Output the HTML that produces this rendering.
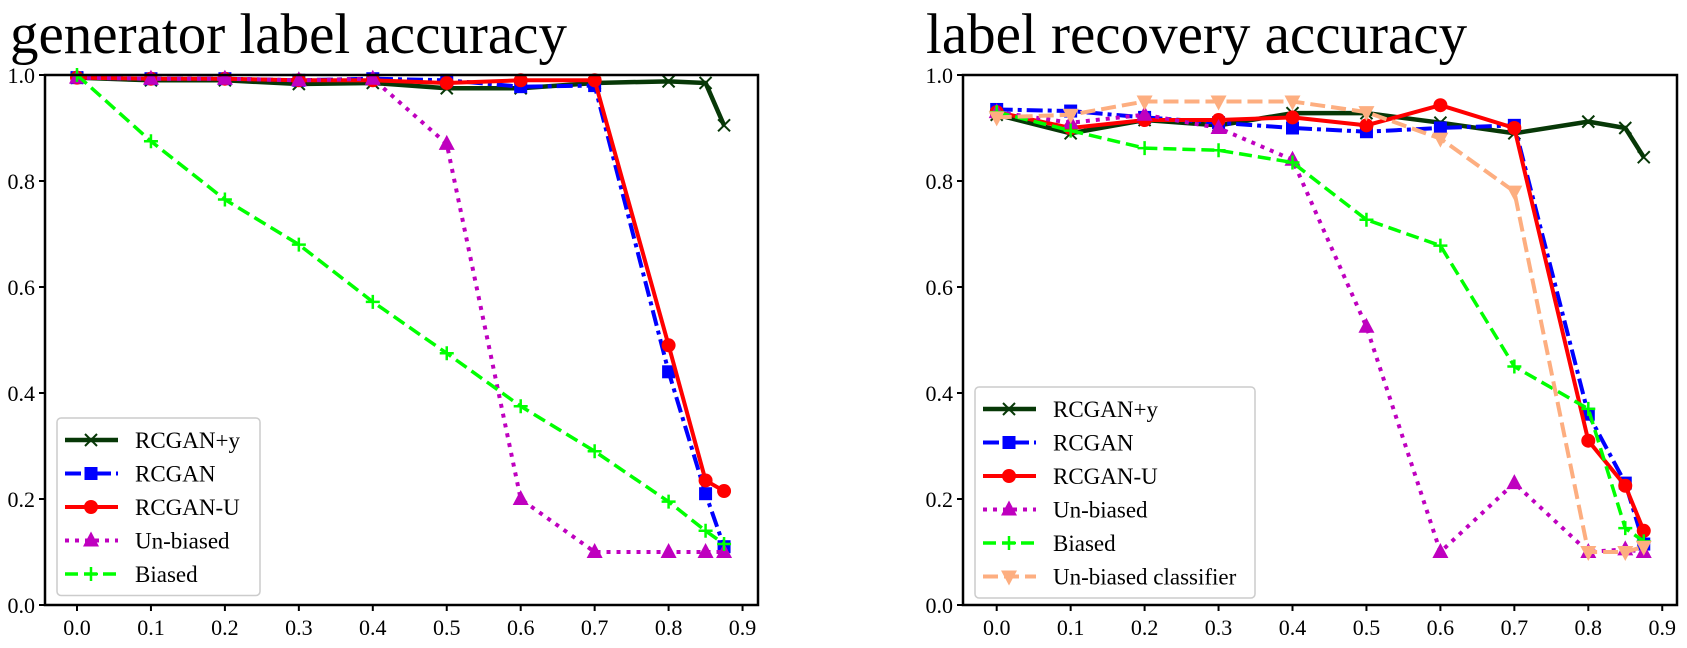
<!DOCTYPE html>
<html><head><meta charset="utf-8"><style>
body{margin:0;background:#fff;}
svg{display:block;font-family:"Liberation Serif",serif;}
</style></head><body>
<svg id="chart" width="1687" height="648" viewBox="0 0 1687 648" xmlns="http://www.w3.org/2000/svg"></svg>
<script>
const xValues = [0,0.1,0.2,0.3,0.4,0.5,0.6,0.7,0.8,0.85,0.875];
const xTicks = [0,0.1,0.2,0.3,0.4,0.5,0.6,0.7,0.8,0.9];
const yTicks = [0,0.2,0.4,0.6,0.8,1.0];
// generator label accuracy
const genRcganY = [0.995,0.99,0.99,0.983,0.985,0.975,0.975,0.985,0.988,0.985,0.905];
const genRcgan = [0.995,0.993,0.993,0.99,0.993,0.99,0.978,0.98,0.44,0.21,0.11];
const genRcganU = [0.995,0.993,0.993,0.99,0.99,0.985,0.99,0.99,0.49,0.235,0.215];
const genUnbiased = [0.995,0.993,0.993,0.99,0.993,0.87,0.2,0.1,0.1,0.1,0.1];
const genBiased = [1.0,0.875,0.765,0.68,0.572,0.475,0.375,0.29,0.195,0.14,0.115];
// label recovery accuracy
const recRcganY = [0.925,0.89,0.915,0.905,0.928,0.928,0.91,0.89,0.912,0.9,0.845];
const recRcgan = [0.935,0.932,0.92,0.91,0.9,0.893,0.9,0.905,0.36,0.23,0.115];
const recRcganU = [0.93,0.9,0.915,0.915,0.92,0.905,0.943,0.9,0.31,0.225,0.14];
const recUnbiased = [0.93,0.91,0.925,0.9,0.84,0.525,0.1,0.23,0.1,0.105,0.1];
const recBiased = [0.93,0.895,0.862,0.858,0.835,0.727,0.678,0.45,0.37,0.145,0.12];
const recUnbiasedClf = [0.92,0.925,0.95,0.95,0.95,0.93,0.88,0.78,0.1,0.1,0.11];
const seriesNames = ["RCGAN+y","RCGAN","RCGAN-U","Un-biased","Biased","Un-biased classifier"];

const NS="http://www.w3.org/2000/svg";
const svg=document.getElementById('chart');
function mk(tag,attrs,parent){const e=document.createElementNS(NS,tag);for(const k in attrs)e.setAttribute(k,attrs[k]);(parent||svg).appendChild(e);return e;}

const styles=[
 {color:"#073807",dash:"",marker:"x",w:4.5},
 {color:"#0000ff",dash:"16 5 4 5",marker:"s",w:4},
 {color:"#ff0000",dash:"",marker:"o",w:4},
 {color:"#bf00bf",dash:"4 6",marker:"^",w:4},
 {color:"#00ff00",dash:"13 6",marker:"+",w:3.5},
 {color:"#fdae80",dash:"15 6",marker:"v",w:4}
];

function marker(g,type,x,y,c){
 let m;
 if(type==="x"){m=mk('path',{d:`M${x-6} ${y-6}L${x+6} ${y+6}M${x-6} ${y+6}L${x+6} ${y-6}`,stroke:c,'stroke-width':2,fill:'none'},g);}
 else if(type==="+"){m=mk('path',{d:`M${x-7} ${y}L${x+7} ${y}M${x} ${y-7}L${x} ${y+7}`,stroke:c,'stroke-width':2.5,fill:'none'},g);}
 else if(type==="s"){m=mk('rect',{x:x-6.5,y:y-6.5,width:13,height:13,fill:c},g);}
 else if(type==="o"){m=mk('circle',{cx:x,cy:y,r:7,fill:c},g);}
 else if(type==="^"){m=mk('path',{d:`M${x} ${y-9}L${x+8} ${y+6}L${x-8} ${y+6}Z`,fill:c},g);}
 else {m=mk('path',{d:`M${x} ${y+9}L${x+8} ${y-6}L${x-8} ${y-6}Z`,fill:c},g);}
 return m;
}

function panel(cfg){
 const {L,R,T,B,x0,title,tx,series,legendTop,legendW,name}=cfg;
 const sx=v=>x0+v*739.5, sy=v=>B-v*(B-T);
 const g=mk('g',{});
 
 
 const t=mk('text',{x:tx,y:53,'font-size':57,fill:'#000'},g);t.textContent=title;
 
 
 xTicks.forEach(v=>{
  mk('line',{x1:sx(v),x2:sx(v),y1:B,y2:B+6,stroke:'#000','stroke-width':2},g);
  const l=mk('text',{x:sx(v),y:B+30,'font-size':22,'text-anchor':'middle'},g);l.textContent=v.toFixed(1);
  
  
 });
 yTicks.forEach(v=>{
  mk('line',{x1:L-6,x2:L,y1:sy(v),y2:sy(v),stroke:'#000','stroke-width':2},g);
  const l=mk('text',{x:L-10,y:sy(v)+8,'font-size':22,'text-anchor':'end'},g);l.textContent=v.toFixed(1);
  
  
 });
 const clip='clip'+name;
 const cp=mk('clipPath',{id:clip},g);mk('rect',{x:L,y:T-10,width:R-L,height:B-T+10},cp);
 const pg=mk('g',{'clip-path':`url(#${clip})`},g);
 series.forEach((s,i)=>{
  const st=styles[i];
  const sg=mk('g',{},pg);
  
  
  const pts=s.map((v,j)=>sx(xValues[j])+','+sy(v)).join(' ');
  mk('polyline',{points:pts,fill:'none',stroke:st.color,'stroke-width':st.w,'stroke-dasharray':st.dash,'stroke-linejoin':'round'},sg);
  s.forEach((v,j)=>marker(sg,st.marker,sx(xValues[j]),sy(v),st.color));
 });
 mk('rect',{x:L,y:T,width:R-L,height:B-T,fill:'none',stroke:'#000','stroke-width':2.5},g);
 const n=series.length, rowH=33.5;
 const lg=mk('g',{},g);
 
 
 mk('rect',{x:L+12,y:legendTop,width:legendW,height:n*rowH+10,rx:4,fill:'#fff','fill-opacity':0.85,stroke:'#ccc','stroke-width':1.5},lg);
 series.forEach((s,i)=>{
  const st=styles[i];const y=legendTop+22+i*rowH;
  const e=mk('g',{},lg);
  
  
  mk('line',{x1:L+20,x2:L+73,y1:y,y2:y,stroke:st.color,'stroke-width':st.w,'stroke-dasharray':st.dash},e);
  marker(e,st.marker,L+46,y,st.color);
  const tt=mk('text',{x:L+90,y:y+8,'font-size':23},e);tt.textContent=seriesNames[i];
 });
}
panel({L:45,R:758,T:75,B:605,x0:77,title:"generator label accuracy",tx:10,
 series:[genRcganY,genRcgan,genRcganU,genUnbiased,genBiased],legendTop:418,legendW:203,name:'generator-panel'});
panel({L:963,R:1677,T:75,B:605,x0:996.7,title:"label recovery accuracy",tx:926,
 series:[recRcganY,recRcgan,recRcganU,recUnbiased,recBiased,recUnbiasedClf],legendTop:387,legendW:280,name:'recovery-panel'});
</script>
</body></html>
